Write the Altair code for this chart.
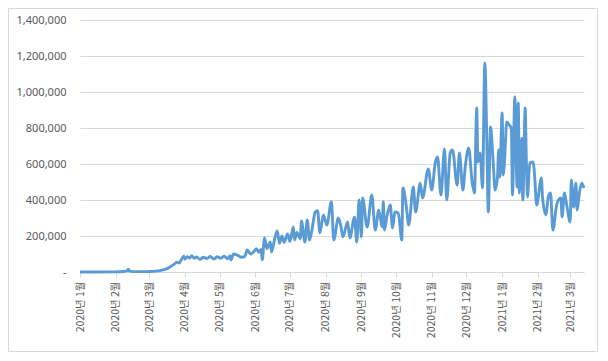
import altair as alt
import pandas as pd

# day offsets from 2020-01-01 and daily values
days = [0, 15, 30, 38, 41, 42, 43, 50, 60, 66, 72, 76, 79, 82, 84, 86, 88, 90, 91, 93,
        95, 97, 99, 101, 104, 107, 110, 113, 116, 119, 122, 125, 128, 130, 131, 133, 136, 140, 143, 145,
        148, 151, 153, 155, 157, 158, 160, 162, 165, 166, 169, 171, 173, 175, 177, 180, 182, 185, 186, 188,
        191, 192, 195, 197, 199, 201, 204, 206, 208, 211, 214, 218, 220, 224, 226, 228, 232, 234, 238, 240,
        242, 244, 245, 249, 253, 256, 259, 262, 263, 264, 266, 269, 271, 273, 276, 279, 280, 283, 285, 289,
        291, 295, 297, 302, 305, 308, 310, 313, 316, 318, 321, 323, 327, 329, 332, 334, 337, 340, 342, 344,
        345, 347, 349, 351, 353, 354, 356, 358, 360, 362, 363, 364, 366, 367, 368, 370, 372, 374, 375, 377,
        379, 380, 381, 383, 384, 386, 387, 388, 390, 393, 394, 396, 399, 400, 401, 404, 406, 408, 410, 413,
        414, 417, 418, 420, 422, 425, 426, 428, 430, 431, 433, 435, 437]
values = [0, 0, 500, 3000, 8000, 16000, 5000, 2000, 2500, 5000, 12000, 20000, 32000, 45000, 55000, 50000, 70000, 88000, 72000, 85000,
          78000, 90000, 76000, 84000, 70000, 82000, 75000, 86000, 72000, 85000, 76000, 88000, 74000, 90000, 67000, 100000, 95000, 82000, 88000, 122000,
          100000, 115000, 130000, 110000, 125000, 67000, 189000, 130000, 167000, 111000, 189000, 228000, 160000, 200000, 165000, 211000, 170000, 250000, 178000, 220000,
          185000, 283000, 167000, 289000, 178000, 230000, 333000, 340000, 217000, 317000, 261000, 390000, 178000, 300000, 260000, 195000, 278000, 189000, 305000, 167000,
          400000, 195000, 411000, 250000, 428000, 233000, 344000, 250000, 390000, 233000, 305000, 372000, 244000, 333000, 328000, 178000, 467000, 361000, 261000, 472000,
          333000, 494000, 411000, 572000, 455000, 605000, 639000, 428000, 683000, 400000, 661000, 678000, 483000, 661000, 455000, 583000, 689000, 500000, 439000, 911000,
          611000, 661000, 467000, 1161000, 639000, 333000, 806000, 639000, 455000, 528000, 678000, 528000, 883000, 539000, 605000, 833000, 817000, 800000, 428000, 972000,
          472000, 939000, 439000, 744000, 400000, 911000, 622000, 417000, 605000, 611000, 550000, 372000, 494000, 522000, 417000, 317000, 417000, 439000, 233000, 361000,
          389000, 411000, 306000, 439000, 372000, 278000, 511000, 361000, 494000, 344000, 439000, 494000, 467000]

y_ticks = [0, 200000, 400000, 600000, 800000, 1000000, 1200000, 1400000]

df = pd.DataFrame({
    "date": pd.Timestamp("2020-01-01") + pd.to_timedelta(days, unit="D"),
    "value": values,
})

line = alt.Chart(df).mark_line(
    color="#5B9BD5", strokeWidth=2.9, interpolate="monotone"
).encode(
    x=alt.X(
        "date:T",
        scale=alt.Scale(nice=False),
        axis=alt.Axis(
            format="%Y년 %-m월",
            labelAngle=270,
            tickCount={"interval": "month", "step": 1},
            grid=False,
            domainColor="#d9d9d9",
            tickColor="#d9d9d9",
            tickSize=5,
            labelPadding=4,
            labelFont="Noto Sans CJK KR",
            labelFontSize=10.5,
            labelColor="#595959",
            labelOverlap=False,
            labelFlush=False,
            title=None,
        ),
    ),
    y=alt.Y(
        "value:Q",
        scale=alt.Scale(domain=[0, 1400000], nice=False),
        axis=alt.Axis(
            values=y_ticks,
            labelExpr="datum.value == 0 ? '-' : format(datum.value, ',')",
            ticks=False,
            domain=False,
            gridColor="#d9d9d9",
            labelPadding=14,
            labelFont="Noto Sans",
            labelFontSize=11,
            labelColor="#595959",
            title=None,
        ),
    ),
)

border = alt.Chart(pd.DataFrame({"a": [0]})).mark_rect(
    fillOpacity=0, stroke="#d9d9d9", strokeWidth=1
).encode(
    x=alt.value(-71.5), x2=alt.value(517.5), y=alt.value(-11.5), y2=alt.value(331.5)
)

chart = alt.layer(border, line).properties(
    width=504,
    height=252,
    padding={"left": 72, "top": 12, "right": 16, "bottom": 81},
    autosize=alt.AutoSizeParams(type="none"),
).configure_view(strokeWidth=0)

chart.save("out.html", embed_options={"renderer": "svg", "actions": False})
